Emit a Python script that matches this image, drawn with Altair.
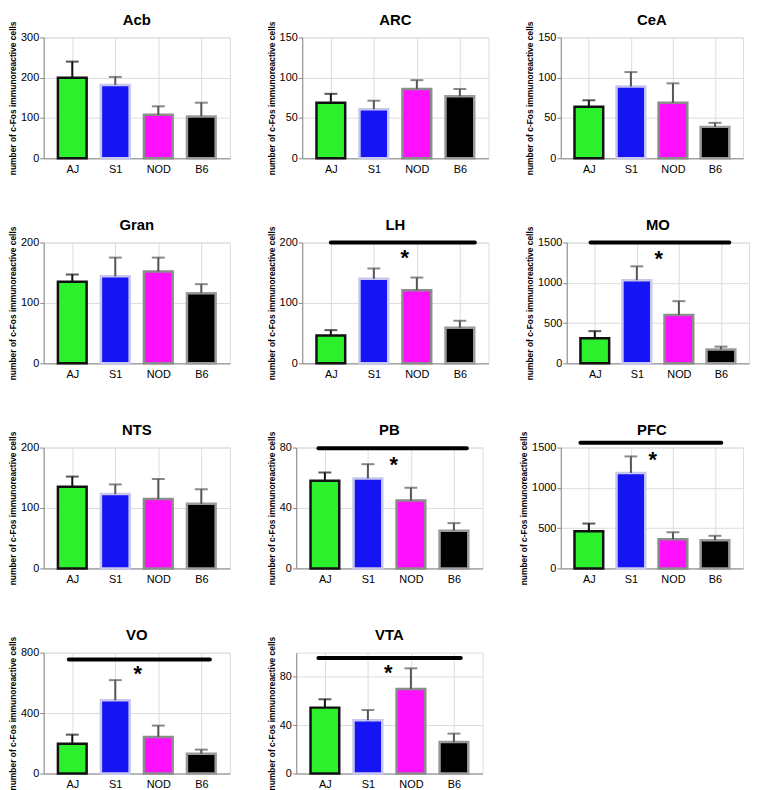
import altair as alt
import pandas as pd

regions = ["Acb", "ARC", "CeA", "Gran", "LH", "MO", "NTS", "PB", "PFC", "VO", "VTA"]
groups = ["AJ", "S1", "NOD", "B6"]

# bar heights (mean), one value per region, per strain
mean_AJ = [200, 69, 64, 135, 46, 312, 135, 58, 461, 197, 54.5]
mean_S1 = [182, 61, 89, 144, 140, 1032, 123, 59.5, 1185, 485, 44]
mean_NOD = [108, 86, 69, 152, 121, 600, 115, 45, 361, 242, 70]
mean_B6 = [104, 77, 39, 116, 59, 172, 107, 25, 349, 130, 26]
# top of error bar (mean + SEM)
top_AJ = [240, 80, 72, 147, 55, 400, 152, 63.5, 557, 257, 61.4]
top_S1 = [202, 71.5, 107, 175, 157, 1204, 139, 69, 1390, 618, 52.5]
top_NOD = [129, 97, 93, 175, 142, 772, 148, 53.4, 449, 317, 87]
top_B6 = [138, 86, 44, 131, 70.5, 208, 131, 30, 405, 158, 33]

# y axis maxima and tick steps
y_max = [300, 150, 150, 200, 200, 1500, 200, 80, 1500, 800, 100]
y_step = [100, 50, 50, 50, 50, 500, 50, 20, 500, 200, 20]

# significance annotations
sig_regions = ["LH", "MO", "PB", "PFC", "VO", "VTA"]
sig_line_y = [200, 1500, 79.5, 1560, 755, 95.5]
sig_x_start = [0.0, -0.1, -0.15, -0.2, -0.08, -0.15]
sig_x_end = [3.35, 3.2, 3.3, 3.15, 3.2, 3.16]
star_x = [1.72, 1.52, 1.6, 1.52, 1.52, 1.47]
star_y = [180, 1340, 71, 1400, 684, 86.5]

fill_colors = ["#2cf02c", "#1414f5", "#ff10ff", "#000000"]
stroke_colors = ["#111111", "#c6c6ee", "#8c8c8c", "#9a9a9a"]
err_colors = ["#111111", "#555555", "#555555", "#555555"]

FONT = "Liberation Sans"

means = [mean_AJ, mean_S1, mean_NOD, mean_B6]
tops = [top_AJ, top_S1, top_NOD, top_B6]
rows = []
for ri, reg in enumerate(regions):
    for gi, g in enumerate(groups):
        rows.append({"region": reg, "group": g, "idx": gi,
                     "mean": means[gi][ri], "err": tops[gi][ri]})
df = pd.DataFrame(rows)

sig_df = pd.DataFrame({"region": sig_regions, "ly": sig_line_y,
                       "x0": sig_x_start, "x1": sig_x_end,
                       "sx": star_x, "sy": star_y})

label_expr = "[" + ",".join("'%s'" % g for g in groups) + "][datum.value]"

W, H = 188, 122


def panel(reg, width=W):
    ri = regions.index(reg)
    ymax = y_max[ri]
    step = y_step[ri]
    ticks = list(range(0, ymax + 1, step))
    d = df[df.region == reg]
    xenc = alt.X("idx:Q",
                 scale=alt.Scale(domain=[-0.55, 3.55], nice=False, zero=False),
                 axis=alt.Axis(values=[0, 1, 2, 3], labelExpr=label_expr,
                               ticks=False, title=None, labelPadding=5,
                               labelFontSize=11))
    yscale = alt.Scale(domain=[0, ymax], nice=False)
    yaxis = alt.Axis(values=ticks, format="d", title="number of c-Fos immunoreactive cells",
                     titleFontSize=8.5, titleFontWeight="bold", titlePadding=3,
                     labelFontSize=11, labelPadding=1, tickSize=4)
    bars = alt.Chart(d).mark_bar(size=29, strokeWidth=2.5).encode(
        x=xenc,
        y=alt.Y("mean:Q", scale=yscale, axis=yaxis),
        fill=alt.Fill("group:N", scale=alt.Scale(domain=groups, range=fill_colors), legend=None),
        stroke=alt.Stroke("group:N", scale=alt.Scale(domain=groups, range=stroke_colors), legend=None),
    )
    err = alt.Chart(d).mark_rule(strokeWidth=2).encode(
        x="idx:Q", y="mean:Q", y2="err:Q",
        color=alt.Color("group:N", scale=alt.Scale(domain=groups, range=err_colors), legend=None),
    )
    cap = alt.Chart(d).mark_tick(orient="horizontal", size=13, thickness=2).encode(
        x="idx:Q", y="err:Q",
        color=alt.Color("group:N", scale=alt.Scale(domain=groups, range=err_colors), legend=None),
    )
    layers = [bars, err, cap]
    if reg in sig_regions:
        s = sig_df[sig_df.region == reg]
        line = alt.Chart(s).mark_rule(strokeWidth=4, strokeCap="round", color="black").encode(
            x="x0:Q", x2="x1:Q", y="ly:Q")
        star = alt.Chart(s).mark_text(text="*", fontSize=22, fontWeight="bold",
                                      font=FONT, color="black", baseline="alphabetic",
                                      dy=11).encode(x="sx:Q", y="sy:Q")
        layers += [line, star]
    return alt.layer(*layers).properties(
        width=width, height=H,
        title=alt.Title(reg, fontSize=15, fontWeight="bold", font=FONT,
                        anchor="middle", frame="group", offset=-7, color="black"),
    )


row1 = alt.hconcat(panel("Acb"), panel("ARC"), panel("CeA", 184), spacing=36)
row2 = alt.hconcat(panel("Gran"), panel("LH"), panel("MO", 184), spacing=36)
row3 = alt.hconcat(panel("NTS"), panel("PB"), panel("PFC", 184), spacing=36)
row4 = alt.hconcat(panel("VO"), panel("VTA"), spacing=36)

chart = alt.vconcat(row1, row2, row3, row4, spacing=41).properties(
    padding=0
).configure_view(stroke=None).configure_axis(
    domainColor="black", domainWidth=2, tickColor="black", tickWidth=2,
    labelFont=FONT, labelFontWeight="bold", labelColor="black",
    titleFont=FONT, titleColor="black", grid=False,
).configure(background="white")

chart.save("out.html", embed_options={"renderer": "svg", "actions": False})
